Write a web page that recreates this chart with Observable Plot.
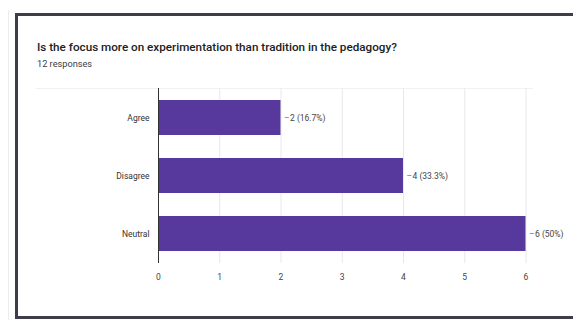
<!DOCTYPE html>
<html>
<head>
<meta charset="utf-8">
<script src="https://cdn.jsdelivr.net/npm/d3@7"></script>
<script src="https://cdn.jsdelivr.net/npm/@observablehq/plot@0.6"></script>
<style>
  html, body { margin: 0; padding: 0; background: #fff; width: 573px; height: 324px; overflow: hidden; font-family: Roboto, "Noto Sans", sans-serif; }
  #page { position: absolute; left: 0; top: 0; width: 573px; height: 324px; }
  #edge { position: absolute; left: 8px; top: 10px; width: 0; height: 310px; border-left: 1px solid #ececec; }
  #card { position: absolute; left: 15px; top: 13px; width: 600px; height: 300px; border: 3px solid #3e3e4a; box-sizing: content-box; }
  #divider { position: absolute; left: 36px; top: 88px; width: 497px; height: 0; border-top: 1px solid #f1f1f1; }
  #title { position: absolute; left: 37px; top: 40px; font-size: 11.7px; font-weight: 500; color: #202124; white-space: nowrap; }
  #subtitle { position: absolute; left: 37px; top: 58px; font-size: 9.2px; color: #3c4043; white-space: nowrap; }
  #chart { position: absolute; left: 0; top: 80px; }
  #chart svg { overflow: visible; }
</style>
</head>
<body>
<div id="page">
  <div id="edge"></div>
  <div id="card"></div>
  <div id="divider"></div>
  <div id="title">Is the focus more on experimentation than tradition in the pedagogy?</div>
  <div id="subtitle">12 responses</div>
  <div id="chart"></div>
</div>
<script>
// Survey answers and their counts
const answers = ["Agree", "Disagree", "Neutral"];
const counts = [2, 4, 6];
const percents = ["16.7%", "33.3%", "50%"];
const xTicks = [0, 1, 2, 3, 4, 5, 6];

const rows = answers.map((a, i) => ({
  answer: a,
  count: counts[i],
  label: `${counts[i]} (${percents[i]})`
}));

const barColor = "#57389c";

const chart = Plot.plot({
  width: 573,
  height: 210,
  marginLeft: 158,
  marginRight: 47.5,
  marginTop: 8,
  marginBottom: 27,
  style: { fontFamily: "Roboto, 'Noto Sans', sans-serif", background: "transparent" },
  x: { domain: [0, 6], ticks: xTicks, label: null },
  y: { domain: answers, paddingInner: 0.39, paddingOuter: 0.18, label: null },
  marks: [
    Plot.gridX(xTicks, { stroke: "#e8e8e8", strokeOpacity: 1 }),
    Plot.barX(rows, { y: "answer", x: "count", fill: barColor }),
    Plot.ruleX([0], { stroke: "#333" }),
    // short connector from bar end to its value label
    Plot.text(rows, { y: "answer", x: "count", text: () => "\u2013", dx: 3, textAnchor: "start", fill: "#777", fontSize: 8.5 }),
    Plot.text(rows, { y: "answer", x: "count", text: "label", dx: 9, textAnchor: "start", fill: "#444", fontSize: 8.5 }),
    Plot.axisY({ tickSize: 0, tickPadding: 9, fontSize: 8.5, fill: "#333" }),
    Plot.axisX({ ticks: xTicks, tickSize: 0, tickPadding: 10, fontSize: 8.5, fill: "#444", tickFormat: d3.format("d") })
  ]
});

document.getElementById("chart").appendChild(chart);
</script>
</body>
</html>
